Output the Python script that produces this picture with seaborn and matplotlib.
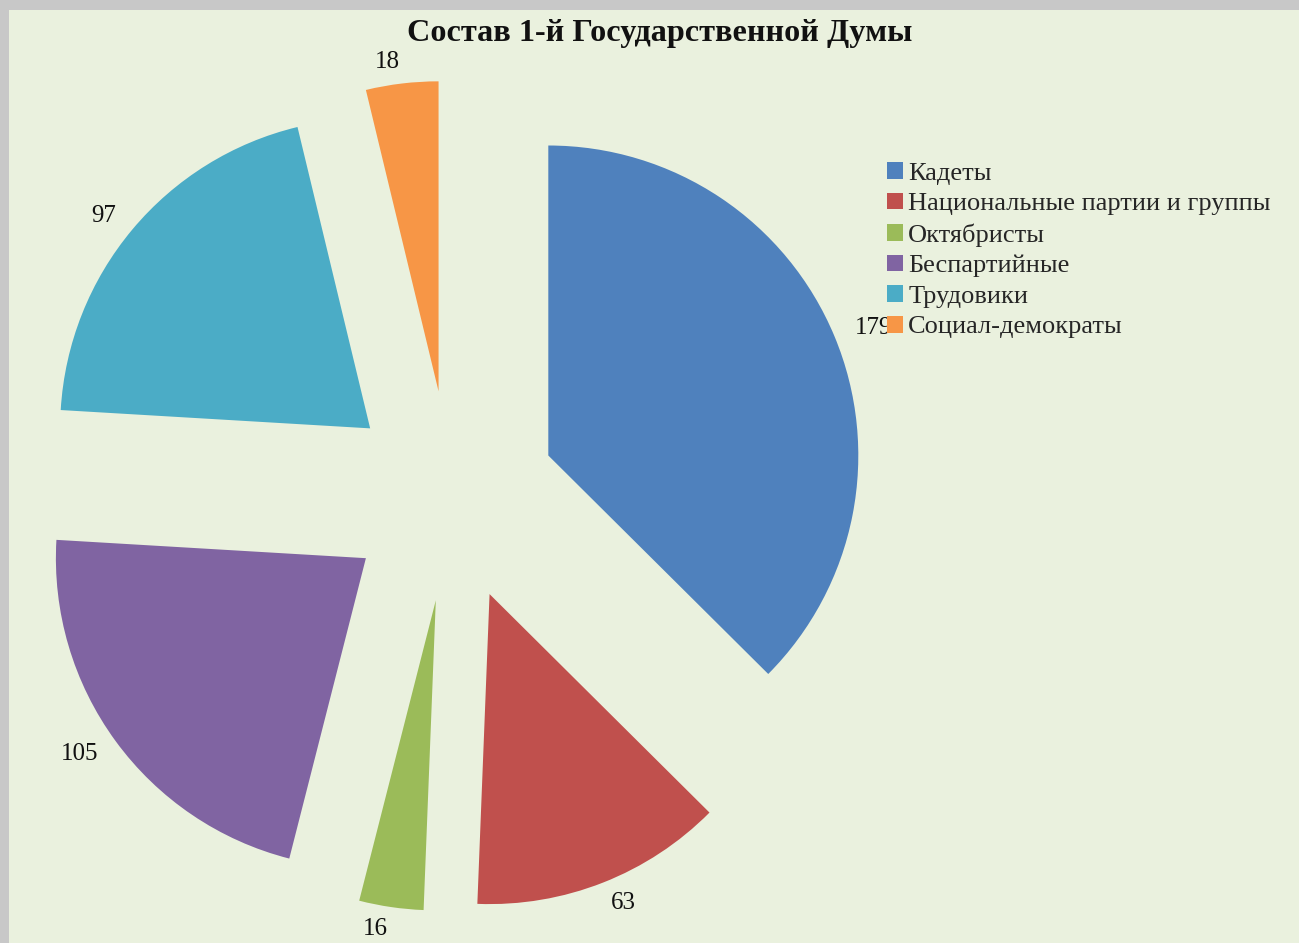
import matplotlib
matplotlib.use('Agg')
import matplotlib.pyplot as plt
import seaborn as sns
from matplotlib.patches import Rectangle

# Data
parties = ['Кадеты', 'Национальные партии и группы', 'Октябристы',
           'Беспартийные', 'Трудовики', 'Социал-демократы']
seats = [179, 63, 16, 105, 97, 18]
colors = ['#4F81BD', '#C0504D', '#9BBB59', '#8064A2', '#4BACC6', '#F79646']
title = 'Состав 1-й Государственной Думы'

sns.set_style('white')
plt.rcParams['font.family'] = ['Liberation Serif', 'DejaVu Serif']

fig = plt.figure(figsize=(12.99, 9.43), dpi=100, facecolor='#c8c8c8')
fig.patches.append(Rectangle((9 / 1299, 0), 1, 1 - 10 / 943, transform=fig.transFigure,
                             facecolor='#EAF1DE', edgecolor='none', zorder=-5))

ax = fig.add_axes([0, 0, 1, 1])
ax.set_facecolor('none')

palette = sns.color_palette(colors)
wedges, texts = ax.pie(seats, labels=[str(s) for s in seats], colors=palette,
                       startangle=90, counterclock=False,
                       explode=[0.34] * len(seats), labeldistance=1.07,
                       textprops={'fontsize': 18, 'color': '#111111'},
                       wedgeprops={'linewidth': 0})

# pixel-matched limits (radius = 310 px, centre at 451,496)
ax.set_xlim(-451 / 310, 848 / 310)
ax.set_ylim(-447 / 310, 496 / 310)
ax.set_aspect('auto')
ax.axis('off')

fig.text(660 / 1299, 1 - 33 / 943, title, ha='center', va='center',
         fontsize=23.2, fontweight='bold', color='#111111')

fig.legend(wedges, parties, loc='upper left', bbox_to_anchor=(887 / 1299, 1 - 162 / 943),
           frameon=False, fontsize=19, handlelength=0.6, handleheight=0.6,
           handletextpad=0.2, labelspacing=0.3, borderpad=0, borderaxespad=0)

fig.savefig('out.png', dpi=100, facecolor=fig.get_facecolor())
